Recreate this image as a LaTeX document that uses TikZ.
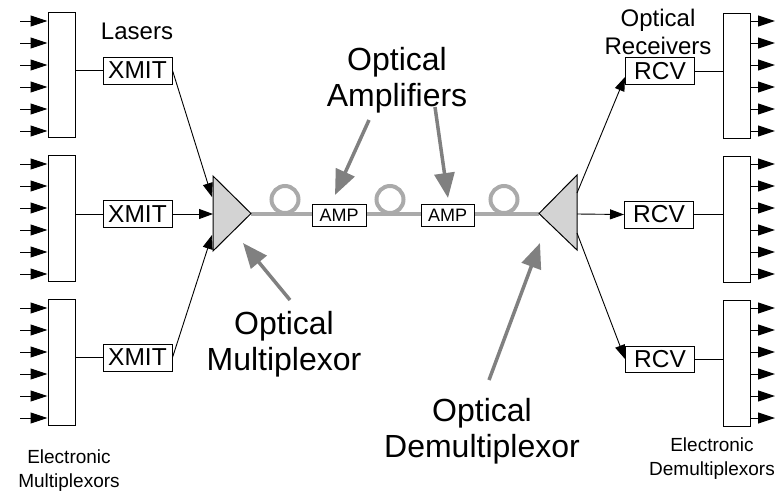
\documentclass[tikz,border=0pt]{standalone}
\usepackage{fontspec}
\setmainfont{Liberation Sans}
\usetikzlibrary{arrows.meta}
\definecolor{fibre}{HTML}{AAAAAA}
\definecolor{pointer}{HTML}{808080}
\definecolor{prism}{HTML}{D3D3D3}
\tikzset{
  muxbox/.style={draw=black, line width=1pt, fill=white, minimum width=27pt, minimum height=125pt, inner sep=0pt},
  unitbox/.style={draw=black, line width=1pt, fill=white, minimum width=69pt, minimum height=27pt, inner sep=0pt, font=\fontsize{24.5}{28}\selectfont},
  ampbox/.style={draw=black, line width=1pt, fill=white, minimum width=54pt, minimum height=22pt, inner sep=0pt, font=\fontsize{18}{20}\selectfont},
  midlabel/.style={align=center, inner sep=0pt, font=\fontsize{24}{28}\selectfont},
  biglabel/.style={align=center, inner sep=0pt, font=\fontsize{32}{36}\selectfont},
  smalllabel/.style={align=center, inner sep=0pt, font=\fontsize{19}{24}\selectfont},
  feed/.style={line width=1pt, -{Triangle[length=17pt,width=11pt]}},
  link/.style={line width=0.9pt, -{Triangle[length=14pt,width=10pt]}},
  plain/.style={line width=1pt},
  fibreline/.style={draw=fibre, line width=4pt},
  callout/.style={draw=pointer, line width=3.5pt, -{Triangle[length=25pt,width=20pt,fill=pointer]}},
  prismshape/.style={draw=black, line width=1pt, fill=prism, line join=miter}
}
\begin{document}
\begin{tikzpicture}[x=1pt,y=-1pt]
\useasboundingbox (0,0) rectangle (775,493);

% fibre
\coordinate (mxapex) at (251,213.5);
\coordinate (dmapex) at (539,213.5);
\draw[fibreline] (mxapex) -- (dmapex);
\draw[fibreline] (285,199.5) circle (13.5);
\draw[fibreline] (390,199.5) circle (13.5);
\draw[fibreline] (504,199.5) circle (13.5);

% prisms
\draw[prismshape] (213,176) -- (mxapex) -- (213,251) -- cycle;
\draw[prismshape] (577,175) -- (dmapex) -- (577,250) -- cycle;
\coordinate (mxin1) at (212,197);
\coordinate (mxin2) at (213,214);
\coordinate (mxin3) at (212,235);
\coordinate (dmout1) at (577,193);
\coordinate (dmout2) at (577,214);
\coordinate (dmout3) at (577,233);

% amplifiers
\node[ampbox] (amp1) at (339,215) {AMP};
\node[ampbox, minimum width=53pt] (amp2) at (447.5,215) {AMP};

% electronic multiplexors
\node[muxbox] (mux1) at (61.5,74.5) {};
\node[muxbox, minimum height=126pt] (mux2) at (61.5,218) {};
\node[muxbox, minimum height=126pt] (mux3) at (61.5,362) {};
\foreach \m/\t in {mux1/12, mux2/155, mux3/299}{
  \foreach \k in {0,...,5}{
    \coordinate (\m src\k) at (20,\t+9+22*\k);
    \draw[feed] (\m src\k) -- (\m src\k -| \m.west);
  }
}

% transmitters
\node[unitbox] (xmit1) at (137.5,70.5) {XMIT};
\node[unitbox] (xmit2) at (137.5,214) {XMIT};
\node[unitbox] (xmit3) at (137.5,357.5) {XMIT};
\draw[plain] (mux1.east |- xmit1.west) -- (xmit1.west);
\draw[plain] (mux2.east |- xmit2.west) -- (xmit2.west);
\draw[plain] (mux3.east |- xmit3.west) -- (xmit3.west);
\draw[link] (xmit1.east) -- (mxin1);
\draw[link] (xmit2.east) -- (mxin2);
\draw[link] (xmit3.east) -- (mxin3);

% receivers
\node[unitbox] (rcv1) at (660,71) {RCV};
\node[unitbox] (rcv2) at (659,214.5) {RCV};
\node[unitbox, minimum height=26pt] (rcv3) at (660,359) {RCV};
\draw[link] (dmout1) -- ([yshift=-6pt]rcv1.west);
\draw[link] (dmout2) -- (rcv2.west);
\draw[link] (dmout3) -- (rcv3.west);

% electronic demultiplexors
\node[muxbox] (dmx1) at (736.5,75.5) {};
\node[muxbox, minimum height=126pt] (dmx2) at (736.5,219) {};
\node[muxbox, minimum height=126pt] (dmx3) at (736.5,363) {};
\draw[plain] (rcv1.east) -- (rcv1.east -| dmx1.west);
\draw[plain] (rcv2.east) -- (rcv2.east -| dmx2.west);
\draw[plain] (rcv3.east) -- (rcv3.east -| dmx3.west);
\foreach \m/\t in {dmx1/12, dmx2/155, dmx3/299}{
  \foreach \k in {0,...,5}{
    \coordinate (\m dst\k) at (775,\t+9+22*\k);
    \draw[feed] (\m dst\k -| \m.east) -- (\m dst\k);
  }
}

% labels
\node[midlabel] (lasers) at (137,31) {Lasers};
\node[midlabel] (receivers) at (658,32) {Optical\\Receivers};
\node[biglabel] (amplab) at (397,80) {Optical\\Amplifiers};
\node[biglabel] (muxlab) at (284,344) {Optical\\Multiplexor};
\node[biglabel] (dmxlab) at (482,431) {Optical\\Demultiplexor};
\node[smalllabel] (elmux) at (69,471) {Electronic\\Multiplexors};
\node[smalllabel] (eldmx) at (712,459) {Electronic\\Demultiplexors};

% callouts
\coordinate (ampA) at (369,120);
\coordinate (ampB) at (435,107);
\coordinate (muxA) at (290,300);
\coordinate (dmxA) at (489,380);
\draw[callout] (ampA) -- (335,195);
\draw[callout] (ampB) -- (448,198);
\draw[callout] (muxA) -- (243,243);
\draw[callout] (dmxA) -- (540,243);
\end{tikzpicture}
\end{document}
